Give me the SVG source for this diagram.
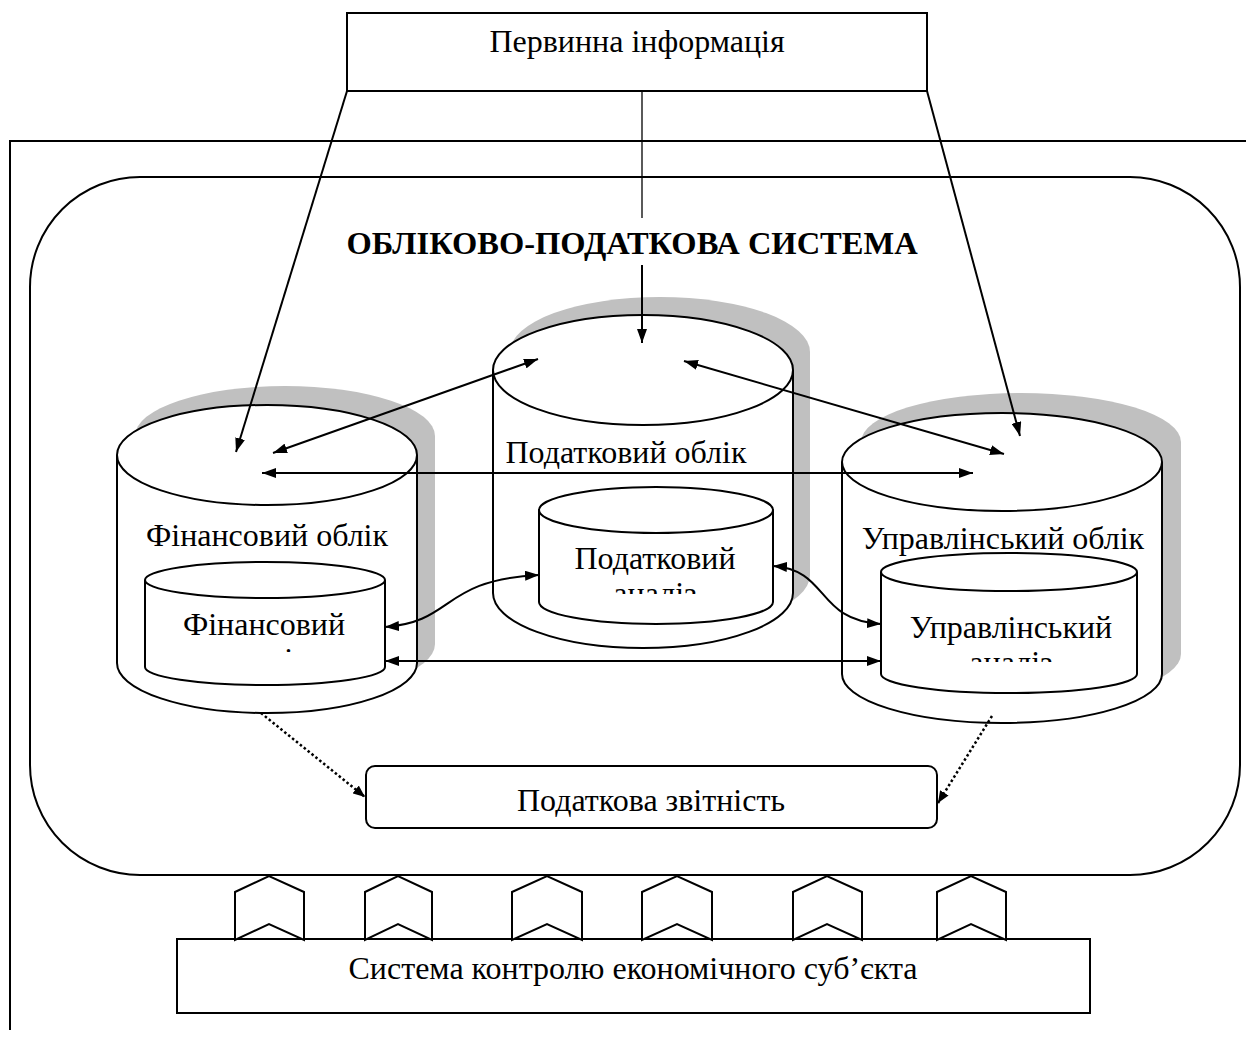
<svg xmlns="http://www.w3.org/2000/svg" width="1246" height="1039" viewBox="0 0 1246 1039">
<style>
.ln{fill:none;stroke:#000;stroke-width:2}
.thin{fill:none;stroke:#000;stroke-width:1.3}
.box{fill:#fff;stroke:#000;stroke-width:2}
.shadow{fill:#c0c0c0;stroke:none}
.cyl{fill:#fff;stroke:#000;stroke-width:2}
.t{font-family:"Liberation Serif","Times New Roman",serif;font-size:32px;fill:#000;text-anchor:middle}
.title{font-family:"Liberation Serif","Times New Roman",serif;font-size:32.5px;font-weight:bold;fill:#000;text-anchor:middle}
.dot{fill:none;stroke:#000;stroke-width:2.5;stroke-dasharray:2.5,2.5}
</style>
<defs>
<marker id="ah" viewBox="0 0 14 10" refX="14" refY="5" markerWidth="14" markerHeight="10" markerUnits="userSpaceOnUse" orient="auto-start-reverse">
<path d="M0,0 L14,5 L0,10 z" fill="#000"/>
</marker>
<marker id="ahs" viewBox="0 0 12 10" refX="12" refY="5" markerWidth="12" markerHeight="10" markerUnits="userSpaceOnUse" orient="auto">
<path d="M0,0 L12,5 L0,10 z" fill="#000"/>
</marker>
<clipPath id="clipL"><rect x="140" y="560" width="250" height="92"/></clipPath>
<clipPath id="clipM"><rect x="535" y="480" width="245" height="114"/></clipPath>
<clipPath id="clipR"><rect x="875" y="550" width="270" height="112"/></clipPath>
</defs>

<g id="frame">
<path class="ln" d="M10,1030 L10,141 L1246,141"/>
</g>

<g id="system">
<rect class="ln" x="30" y="177" width="1210" height="698" rx="110" ry="110"/>
<rect x="347" y="218" width="571" height="47" fill="#fff"/>
<text class="title" x="632" y="254">ОБЛІКОВО-ПОДАТКОВА СИСТЕМА</text>
</g>

<g id="primary-info">
<rect class="box" x="347" y="13" width="580" height="78"/>
<text class="t" x="637" y="52">Первинна інформація</text>
</g>

<g id="fin-account">
<path class="shadow" d="M135,436 L135,644 A150,50 0 0 0 435,644 L435,436 A150,50 0 0 0 135,436 z"/>
<path class="cyl" d="M117,455 L117,663 A150,50 0 0 0 417,663 L417,455"/>
<ellipse class="cyl" cx="267" cy="455" rx="150" ry="50"/>
<text class="t" x="267" y="546">Фінансовий облік</text>
</g>
<g id="fin-analysis">
<path class="cyl" d="M145,580 L145,667 A120,18 0 0 0 385,667 L385,580"/>
<ellipse class="cyl" cx="265" cy="580" rx="120" ry="18"/>
<g clip-path="url(#clipL)">
<text class="t" x="264" y="635">Фінансовий</text>
<text class="t" x="264" y="670">аналіз</text>
</g>
</g>

<g id="tax-account">
<path class="shadow" d="M510,352 L510,575 A150,55 0 0 0 810,575 L810,352 A150,55 0 0 0 510,352 z"/>
<path class="cyl" d="M493,370 L493,593 A150,55 0 0 0 793,593 L793,370"/>
<ellipse class="cyl" cx="643" cy="370" rx="150" ry="55"/>
<text class="t" x="626" y="463">Податковий облік</text>
</g>
<g id="tax-analysis">
<path class="cyl" d="M539,510 L539,602 A117,22 0 0 0 773,602 L773,510"/>
<ellipse class="cyl" cx="656" cy="510" rx="117" ry="23"/>
<g clip-path="url(#clipM)">
<text class="t" x="655" y="569">Податковий</text>
<text class="t" x="655" y="604">аналіз</text>
</g>
</g>

<g id="mgmt-account">
<path class="shadow" d="M861,442 L861,654 A160,49 0 0 0 1181,654 L1181,442 A160,49 0 0 0 861,442 z"/>
<path class="cyl" d="M842,462 L842,674 A160,49 0 0 0 1162,674 L1162,462"/>
<ellipse class="cyl" cx="1002" cy="462" rx="160" ry="49"/>
<text class="t" x="1003" y="549">Управлінський облік</text>
</g>
<g id="mgmt-analysis">
<path class="cyl" d="M881,572 L881,674 A128,19 0 0 0 1137,674 L1137,572"/>
<ellipse class="cyl" cx="1009" cy="572" rx="128" ry="19"/>
<g clip-path="url(#clipR)">
<text class="t" x="1011" y="638">Управлінський</text>
<text class="t" x="1011" y="673">аналіз</text>
</g>
</g>

<g id="tax-reporting">
<rect class="box" x="366" y="766" width="571" height="62" rx="9" ry="9"/>
<text class="t" x="651" y="811">Податкова звітність</text>
</g>

<g id="control-system">
<rect class="box" x="177" y="939" width="913" height="74"/>
<text class="t" x="633" y="979">Система контролю економічного суб’єкта</text>
</g>

<g id="chevrons">
<polygon class="box" points="235,940 235,892 269,876 304,892 304,940 269,924"/>
<polygon class="box" points="365,940 365,892 398,876 432,892 432,940 398,924"/>
<polygon class="box" points="512,940 512,892 547,876 582,892 582,940 547,924"/>
<polygon class="box" points="642,940 642,892 677,876 712,892 712,940 677,924"/>
<polygon class="box" points="793,940 793,892 827,876 862,892 862,940 827,924"/>
<polygon class="box" points="937,940 937,892 971,876 1006,892 1006,940 971,924"/>
</g>

<g id="connectors">
<path class="ln" d="M347,91 L236,452" marker-end="url(#ah)"/>
<path class="thin" d="M642,91 L642,218"/>
<path class="ln" d="M642,265 L642,343" marker-end="url(#ah)"/>
<path class="ln" d="M927,91 L1020,436" marker-end="url(#ah)"/>
<path class="ln" d="M273,453 L538,359" marker-start="url(#ah)" marker-end="url(#ah)"/>
<path class="ln" d="M684,361 L1004,454" marker-start="url(#ah)" marker-end="url(#ah)"/>
<path class="ln" d="M262,473 L973,473" marker-start="url(#ah)" marker-end="url(#ah)"/>
<path class="ln" d="M385,627 C455,622 440,580 539,575" marker-start="url(#ah)" marker-end="url(#ah)"/>
<path class="ln" d="M773,566 C830,570 815,620 881,624" marker-start="url(#ah)" marker-end="url(#ah)"/>
<path class="ln" d="M385,661 L881,661" marker-start="url(#ah)" marker-end="url(#ah)"/>
<path class="dot" d="M261,713 L365,797" marker-end="url(#ahs)"/>
<path class="dot" d="M992,716 L938,803" marker-end="url(#ahs)"/>
</g>
</svg>
